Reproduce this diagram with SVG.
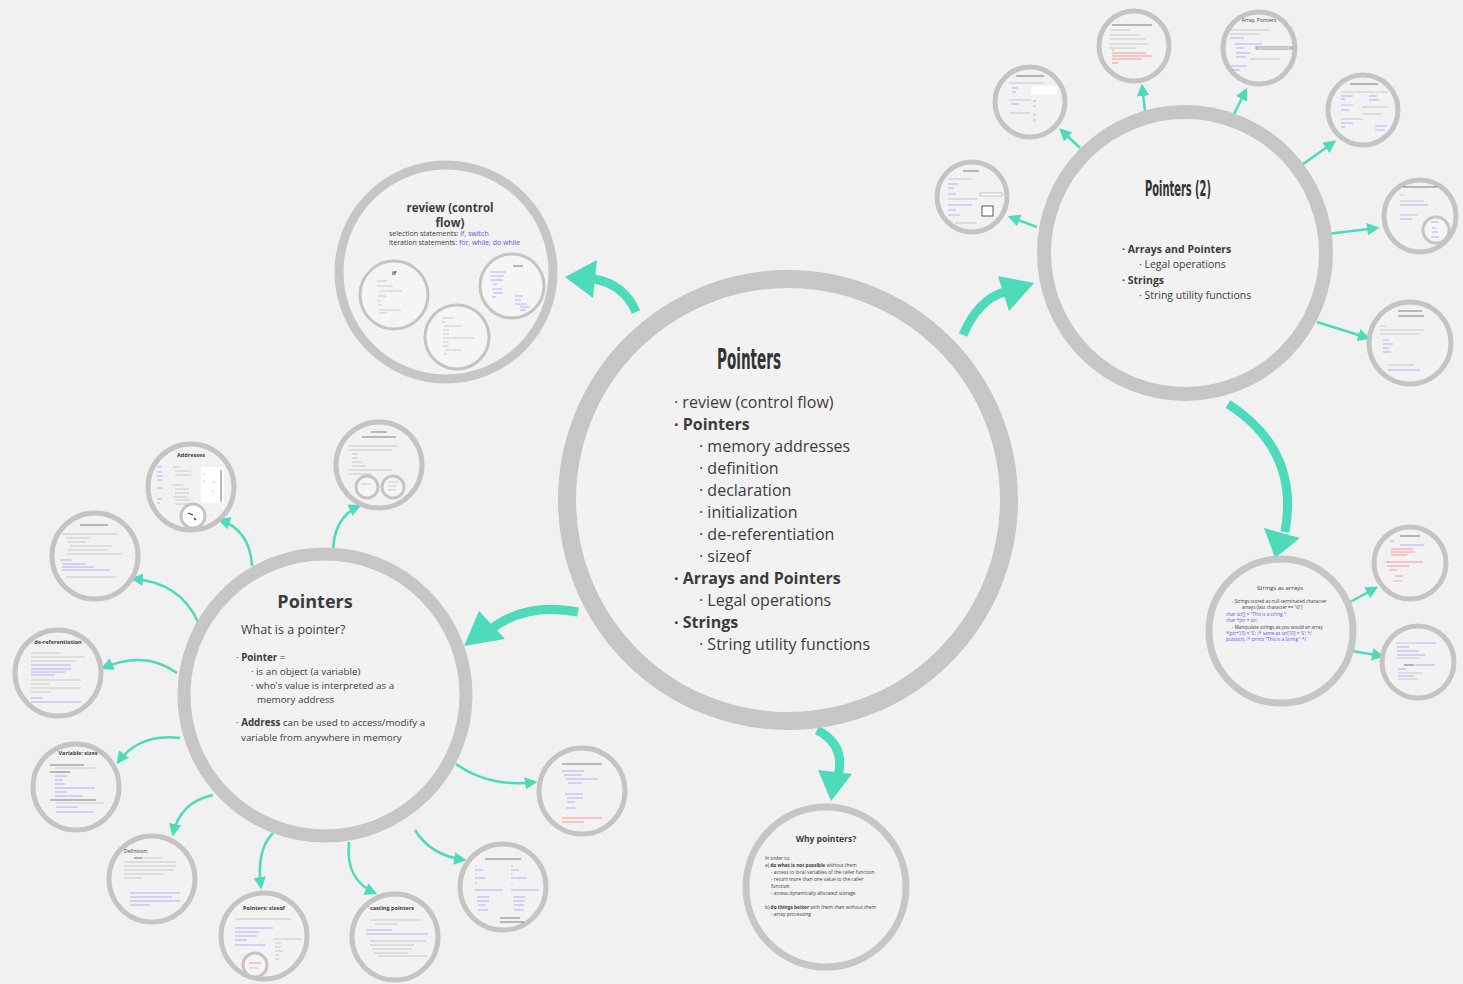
<svg xmlns="http://www.w3.org/2000/svg" width="1463" height="984" viewBox="0 0 1463 984">
<defs>
<style>
.bg{fill:#f1f1f1}
.c{fill:#f2f2f2;stroke:#c6c6c6}
.s{fill:#f2f2f2;stroke:#c4c4c4;stroke-width:5}
.ss{fill:#f5f5f5;stroke:#c4c4c4;stroke-width:3}
.os{font-family:'Open Sans','Noto Sans','DejaVu Sans',sans-serif;fill:#3c3c3c}
.cond{font-family:'DejaVu Sans Condensed','DejaVu Sans',sans-serif;font-weight:bold;fill:#333;font-stretch:condensed}
.bl{fill:#6a4cf5}
.b{font-weight:bold}
.th{stroke:#4ddbb9;fill:none;stroke-width:2.5}
.tk{stroke:#4ddbb9;fill:none;stroke-width:9}
.ah{fill:#4ddbb9}
.lg{stroke:#8c8c8c;stroke-width:.8;opacity:.5;fill:none}
.lb{stroke:#7a5cff;stroke-width:.8;opacity:.6;fill:none}
.lr{stroke:#ff4040;stroke-width:.8;opacity:.65;fill:none}
.ld{stroke:#333;stroke-width:1.1;opacity:.6;fill:none}
</style>
<marker id="arr" viewBox="0 0 10 10" refX="8" refY="5" markerWidth="5" markerHeight="5" orient="auto">
<path d="M0,0 L10,5 L0,10 z" fill="#4ddbb9"/>
</marker>
</defs>
<rect class="bg" x="0" y="0" width="1463" height="984"/>

<g id="connectors">
<path class="tk" d="M636,312 Q624,284 594,279"/>
<polygon class="ah" points="565,277 597,260 593,298"/>
<path class="tk" d="M963,335 Q978,300 1004,292"/>
<polygon class="ah" points="1034,283 998,276 1009,311"/>
<path class="tk" d="M578,612 Q525,602 490,630"/>
<polygon class="ah" points="464,646 479,611 505,639"/>
<path class="tk" d="M817,730 Q846,745 838,776"/>
<polygon class="ah" points="831,801 818,770 852,774"/>
<path class="tk" d="M1228,404 Q1300,450 1285,532"/>
<polygon class="ah" points="1275,558 1264,528 1300,538"/>
<path class="th" d="M1037,227 L1010,217" marker-end="url(#arr)"/>
<path class="th" d="M1080,148 L1061,130" marker-end="url(#arr)"/>
<path class="th" d="M1145,111 L1142,86" marker-end="url(#arr)"/>
<path class="th" d="M1233,116 L1246,90" marker-end="url(#arr)"/>
<path class="th" d="M1299,167 L1334,142" marker-end="url(#arr)"/>
<path class="th" d="M1327,234 L1377,228" marker-end="url(#arr)"/>
<path class="th" d="M1317,322 L1368,338" marker-end="url(#arr)"/>
<path class="th" d="M1350,602 L1376,588" marker-end="url(#arr)"/>
<path class="th" d="M1352,651 L1382,656" marker-end="url(#arr)"/>
<path class="th" d="M252,566 Q250,530 220,520" marker-end="url(#arr)"/>
<path class="th" d="M333,553 Q333,518 359,506" marker-end="url(#arr)"/>
<path class="th" d="M198,622 Q180,582 133,579" marker-end="url(#arr)"/>
<path class="th" d="M177,673 Q145,650 103,668" marker-end="url(#arr)"/>
<path class="th" d="M180,738 Q140,733 118,762" marker-end="url(#arr)"/>
<path class="th" d="M213,795 Q180,802 173,834" marker-end="url(#arr)"/>
<path class="th" d="M273,833 Q256,850 261,887" marker-end="url(#arr)"/>
<path class="th" d="M349,842 Q345,880 375,893" marker-end="url(#arr)"/>
<path class="th" d="M415,830 Q430,855 464,860" marker-end="url(#arr)"/>
<path class="th" d="M456,764 Q490,788 535,782" marker-end="url(#arr)"/>
</g>

<g id="main">
<circle class="c" cx="788" cy="500" r="221" stroke-width="18"/>
<text class="cond" x="717" y="369" font-size="28" textLength="64" lengthAdjust="spacingAndGlyphs">Pointers</text>
<g class="os" font-size="16">
<text x="674" y="408">· review (control flow)</text>
<text x="674" y="430" class="b">· Pointers</text>
<text x="699" y="452">· memory addresses</text>
<text x="699" y="474">· definition</text>
<text x="699" y="496">· declaration</text>
<text x="699" y="518">· initialization</text>
<text x="699" y="540">· de-referentiation</text>
<text x="699" y="562">· sizeof</text>
<text x="674" y="584" class="b">· Arrays and Pointers</text>
<text x="699" y="606">· Legal operations</text>
<text x="674" y="628" class="b">· Strings</text>
<text x="699" y="650">· String utility functions</text>
</g>
</g>

<g id="review">
<circle class="c" cx="446" cy="272" r="107" stroke-width="9"/>
<text class="os b" x="450" y="212" font-size="11.5" text-anchor="middle">review (control</text>
<text class="os b" x="450" y="227" font-size="11.5" text-anchor="middle">flow)</text>
<text class="os" x="389" y="236" font-size="7">selection statements: <tspan class="bl">if, switch</tspan></text>
<text class="os" x="389" y="245" font-size="7">iteration statements: <tspan class="bl">for, while, do while</tspan></text>
<circle class="ss" cx="394" cy="295" r="34"/>
<text class="os b" x="392" y="275" font-size="6">if</text>
<path class="lg" d="M377,281h10M377,286h16M380,291h22M378,296h8M377,301h4M378,305h4M379,310h22M379,313h8"/>
<circle class="ss" cx="457" cy="337" r="32"/>
<path class="lg" d="M442,318h12M442,322h3M444,326h18M443,330h6M443,334h6M443,338h32M443,342h6M443,346h6M445,350h16M444,354h3"/>
<circle class="ss" cx="512" cy="286" r="32"/>
<path class="ld" d="M513,266h10"/>
<path class="lb" d="M490,272h16M490,276h14M491,280h12M493,284h4M492,289h10M493,293h10M492,297h4M515,296h8M515,300h6M515,304h12M520,307h10M520,310h6"/>
</g>

<g id="pointers2">
<circle class="c" cx="1185" cy="253" r="141" stroke-width="14"/>
<text class="cond" x="1145" y="196" font-size="21" textLength="66" lengthAdjust="spacingAndGlyphs">Pointers (2)</text>
<g class="os" font-size="10.5">
<text x="1122" y="253" class="b">· Arrays and Pointers</text>
<text x="1139" y="268">· Legal operations</text>
<text x="1122" y="284" class="b">· Strings</text>
<text x="1139" y="299">· String utility functions</text>
</g>
</g>

<g id="p2c1">
<circle class="s" cx="972" cy="197" r="35"/>
<path class="ld" d="M963,171h16"/>
<path class="lg" d="M948,179h24M948,199h30M955,223h22"/>
<path class="lb" d="M948,184h10M948,188h6M948,194h8M948,205h24M948,210h8M948,215h12"/>
<rect x="980" y="193" width="22" height="3" fill="#fff" stroke="#999" stroke-width=".6"/>
<rect x="982" y="206" width="11" height="10" fill="#fff" stroke="#333" stroke-width=".8"/>
</g>
<g id="p2c2">
<circle class="s" cx="1030" cy="102" r="35"/>
<path class="ld" d="M1016,76h28"/>
<path class="lg" d="M1009,83h36M1009,100h22M1010,113h20"/>
<path class="lb" d="M1012,88h6M1012,92h4M1011,104h8M1033,101h3M1033,106h3M1033,115h3M1033,120h3"/>
<rect x="1031" y="86" width="26" height="8" fill="#fff"/>
</g>
<g id="p2c3">
<circle class="s" cx="1134" cy="46" r="35"/>
<path class="ld" d="M1112,25h40"/>
<path class="lg" d="M1110,30h20M1110,35h30M1110,39h36M1110,44h38M1110,48h26"/>
<path class="lr" d="M1112,50h2M1112,53h34M1112,56h40M1112,59h30M1112,63h6"/>
</g>
<g id="p2c4">
<circle class="s" cx="1259" cy="48" r="36"/>
<text class="os" x="1259" y="22" font-size="5" text-anchor="middle">Array, Pointers</text>
<path class="lg" d="M1230,30h40M1230,34h30"/>
<path class="lb" d="M1230,38h14M1234,44h28M1236,48h8M1236,53h14M1236,57h10M1231,66h16M1232,70h8"/>
<rect x="1256" y="47" width="36" height="2" fill="#fff" stroke="#555" stroke-width=".6"/>
<path class="lg" d="M1250,59h30"/>
</g>
<g id="p2c5">
<circle class="s" cx="1363" cy="110" r="35"/>
<path class="ld" d="M1350,84h28"/>
<path class="lg" d="M1341,92h46M1341,105h12M1341,119h22M1362,107h26M1362,114h20"/>
<path class="lb" d="M1341,96h12M1341,99h4M1341,110h8M1341,123h12M1341,127h4M1369,96h8M1369,100h10M1375,126h12M1375,130h10"/>
</g>
<g id="p2c6">
<circle class="s" cx="1420" cy="216" r="36"/>
<path class="ld" d="M1403,187h34"/>
<path class="lg" d="M1400,195h4M1400,201h24M1400,215h18"/>
<path class="lb" d="M1400,205h28M1400,219h12"/>
<circle class="ss" cx="1436" cy="230" r="13"/>
<path class="lb" d="M1431,222h8M1432,228h4M1432,232h6M1431,237h8"/>
</g>
<g id="p2c7">
<circle class="s" cx="1410" cy="343" r="41"/>
<path class="ld" d="M1398,311h24M1398,316h26"/>
<path class="lg" d="M1380,326h6M1380,330h44M1380,334h40M1388,365h26"/>
<path class="lb" d="M1383,340h6M1383,344h10M1383,348h6M1383,352h8M1388,370h32"/>
</g>

<g id="strings">
<circle class="c" cx="1281" cy="631" r="72" stroke-width="7"/>
<text class="os" x="1280" y="590" font-size="6" text-anchor="middle">Strings as arrays</text>
<g class="os" font-size="4.6">
<text x="1232" y="603">- Strings stored as null-terminated character</text>
<text x="1242" y="609">arrays (last character == '\0')</text>
<text x="1226" y="616" class="bl">char str[] = "This is a string.";</text>
<text x="1226" y="622" class="bl">char *ptr = str;</text>
<text x="1232" y="629">- Manipulate strings as you would an array</text>
<text x="1226" y="635" class="bl">*(ptr+10) = 'S';  /* same as str[10] = 'S'; */</text>
<text x="1226" y="641" class="bl">puts(str);        /* prints "This is a String." */</text>
</g>
</g>
<g id="strc1">
<circle class="s" cx="1410" cy="563" r="36"/>
<path class="ld" d="M1400,536h20"/>
<path class="lb" d="M1390,541h4M1400,545h24"/>
<path class="lr" d="M1391,549h22M1391,552h24M1391,555h16M1387,562h36M1387,566h22M1389,570h8M1395,576h8"/>
<path class="lg" d="M1385,562h4M1393,581h10"/>
</g>
<g id="strc2">
<circle class="s" cx="1418" cy="662" r="36"/>
<path class="lg" d="M1396,643h20M1396,658h24M1398,673h24M1398,679h20"/>
<path class="lb" d="M1416,643h20M1397,647h12M1397,651h22M1397,655h28M1415,665h20M1398,669h8M1398,676h16"/>
<path class="ld" d="M1404,665h10"/>
</g>

<g id="why">
<circle class="c" cx="826" cy="887" r="80" stroke-width="7"/>
<text class="os b" x="826" y="842" font-size="8.5" text-anchor="middle">Why pointers?</text>
<g class="os" font-size="4.8">
<text x="765" y="860">In order to:</text>
<text x="765" y="867">a) <tspan class="b">do what is not possible</tspan> without them</text>
<text x="771" y="874">- access to local variables of the caller function</text>
<text x="771" y="881">- return more than one value to the caller</text>
<text x="771" y="888">function</text>
<text x="771" y="895">- access dynamically allocated storage</text>
<text x="765" y="909">b) <tspan class="b">do things better</tspan> with them than without them</text>
<text x="771" y="916">- array processing</text>
</g>
</g>

<g id="pointersL">
<circle class="c" cx="325" cy="695" r="141" stroke-width="13"/>
<text class="os b" x="315" y="608" font-size="18" text-anchor="middle">Pointers</text>
<text class="os" x="241" y="634" font-size="12.5">What is a pointer?</text>
<g class="os" font-size="9.8">
<text x="236" y="661">· <tspan class="b">Pointer</tspan> =</text>
<text x="251" y="675">·  is an object (a variable)</text>
<text x="251" y="689">· who's value is interpreted as a</text>
<text x="257" y="703">memory address</text>
<text x="236" y="726">· <tspan class="b">Address</tspan> can be used to access/modify a</text>
<text x="241" y="741">variable from anywhere in memory</text>
</g>
</g>

<g id="addresses">
<circle class="s" cx="191" cy="487" r="43"/>
<text class="os b" x="191" y="457" font-size="5.5" text-anchor="middle">Addresses</text>
<path class="lb" d="M157,467h5M157,472h5M157,476h6M157,480h5M157,488h6M157,499h5M157,503h3"/>
<path class="lg" d="M173,467h8M175,471h16M175,475h16M173,485h10M175,489h14M175,493h14M173,497h14M175,500h16M175,504h14"/>
<rect x="201" y="467" width="23" height="36" fill="#fff"/>
<path class="ld" d="M221,470v32"/>
<path class="lb" d="M203,474h2M203,481h2M213,482h2M212,491h2"/>
<circle cx="193" cy="516" r="12" fill="#fff" stroke="#c4c4c4" stroke-width="3"/>
<path d="M188,513l5,2M194,518l2,2" stroke="#333" stroke-width="1.2"/>
</g>
<g id="memory">
<circle class="s" cx="379" cy="465" r="43"/>
<path class="ld" d="M371,432h16M362,437h34"/>
<path class="lg" d="M348,446h50M348,450h44M352,454h6M352,458h6M352,462h10M352,466h14M348,470h44M348,474h24"/>
<circle class="ss" cx="367" cy="487" r="11"/>
<circle class="ss" cx="393" cy="487" r="11"/>
<path class="lg" d="M361,484h10M388,482h10M388,486h8M388,490h8"/>
</g>
<g id="scope">
<circle class="s" cx="95" cy="556" r="43"/>
<path class="ld" d="M80,525h28"/>
<path class="lg" d="M62,534h56M66,538h24M68,542h18M70,546h42M68,550h40M66,554h56M66,577h50"/>
<path class="lb" d="M60,560h12M62,564h24M62,567h32M62,570h48"/>
</g>
<g id="deref">
<circle class="s" cx="58" cy="673" r="43"/>
<text class="os b" x="58" y="644" font-size="5.5" text-anchor="middle">de-referentiation</text>
<path class="lg" d="M31,653h30M31,657h54M31,661h46M31,680h50M31,684h18M31,688h50M31,692h20"/>
<path class="lb" d="M31,665h40M31,669h40M31,672h34M31,675h24M31,698h12M31,702h50"/>
</g>
<g id="varsizes">
<circle class="s" cx="76" cy="787" r="43"/>
<text class="os b" x="78" y="755" font-size="5.5" text-anchor="middle">Variable: sizes</text>
<path class="ld" d="M50,765h34M50,772h20M50,800h46"/>
<path class="lg" d="M55,768h40M56,803h48"/>
<path class="lb" d="M55,776h12M55,780h8M55,784h10M55,788h40M55,792h12M55,796h28M56,807h22M56,812h38"/>
</g>
<g id="definition">
<circle class="s" cx="152" cy="879" r="43"/>
<text class="os" x="124" y="853" font-size="5">Definition:</text>
<path class="ld" d="M134,858h8"/>
<path class="lg" d="M142,858h20M124,862h52M124,866h52M124,870h50M124,874h40M124,878h18"/>
<path class="lb" d="M130,893h50M130,897h42M130,901h50M130,905h20"/>
</g>
<g id="psizeof">
<circle class="s" cx="264" cy="936" r="43"/>
<text class="os b" x="264" y="910" font-size="5.5" text-anchor="middle">Pointers: sizeof</text>
<path class="lg" d="M235,919h56M273,939h28M275,943h6M275,947h6M275,951h8M275,955h4M275,959h4"/>
<path class="lb" d="M235,928h38M235,932h24M235,936h22M235,940h12M235,945h30"/>
<circle cx="255" cy="965" r="12" fill="#f5f5f5" stroke="#c4c4c4" stroke-width="3"/>
<path class="lr" d="M249,963h12"/>
<path class="lg" d="M249,968h10"/>
</g>
<g id="casting">
<circle class="s" cx="395" cy="937" r="43"/>
<text class="os b" x="392" y="910" font-size="5.5" text-anchor="middle">casting pointers</text>
<path class="lg" d="M370,920h52M375,924h22M370,941h56M370,945h44M372,949h40M374,953h34M378,956h50"/>
<path class="lb" d="M366,930h26M366,934h62"/>
</g>
<g id="traverse">
<circle class="s" cx="503" cy="887" r="43"/>
<path class="ld" d="M485,859h36M500,918h20M500,922h24"/>
<path class="lb" d="M475,870h8M475,878h10M475,890h28M477,897h12M477,901h12M478,905h8M478,910h10M511,870h8M511,878h16M511,890h28M513,897h12M513,901h12M514,905h10M514,910h10"/>
<path class="lg" d="M475,866h2M475,874h2M475,883h2M511,866h2M511,874h2M511,883h2"/>
</g>
<g id="swap">
<circle class="s" cx="582" cy="791" r="43"/>
<path class="ld" d="M562,764h40"/>
<path class="lb" d="M562,771h22M564,775h18M566,779h32M568,783h14M565,794h18M567,798h16M567,802h8M566,808h10"/>
<path class="lr" d="M562,818h40M562,822h22"/>
</g>
</svg>
